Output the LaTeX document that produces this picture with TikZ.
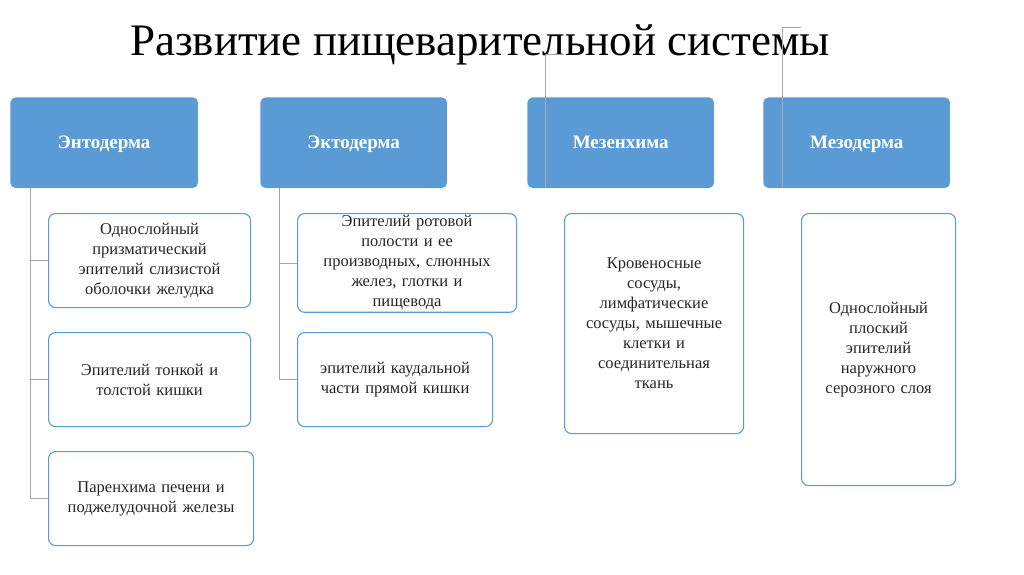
\documentclass[tikz,border=0pt]{standalone}
\usepackage{fontspec}
\setmainfont{Liberation Serif}
\begin{document}
\begin{tikzpicture}[x=1pt,y=-1pt,
 hdr/.style={draw=white,fill=hblue,rounded corners=5pt,anchor=north west,text=white,font=\fontsize{19}{22}\selectfont\bfseries,align=center,inner sep=0pt,text depth=0pt},
 sub/.style={draw=hblue,line width=1.1pt,fill=white,rounded corners=7pt,anchor=north west,font=\fontsize{16.5}{20}\selectfont,align=center,inner sep=2pt,text=black!85},
 conn/.style={draw=gray!70,line width=0.8pt}]
\definecolor{hblue}{HTML}{5B9BD5}
\useasboundingbox (0,0) rectangle (1024,574);
\node (title) at (480,45) {\fontsize{45}{50}\selectfont Развитие пищеварительной системы};
\node[hdr,minimum width=188,minimum height=91] (h1) at (10,97) {Энтодерма};
\node[hdr,minimum width=187,minimum height=91] (h2) at (260,97) {Эктодерма};
\node[hdr,minimum width=187,minimum height=91] (h3) at (527,97) {Мезенхима};
\node[hdr,minimum width=187,minimum height=91] (h4) at (763,97) {Мезодерма};
\node[sub,minimum width=202,minimum height=94,text width=195] (a1) at (48,213) {Однослойный\\призматический\\эпителий слизистой\\оболочки желудка};
\node[sub,minimum width=202,minimum height=94,text width=195] (a2) at (48,332) {Эпителий тонкой и\\толстой кишки};
\node[sub,minimum width=205,minimum height=94,text width=198] (b0) at (48,451) {Паренхима печени и\\поджелудочной железы};
\node[sub,minimum width=219,minimum height=94,text width=210] (b1) at (297,213) {Эпителий ротовой\\полости и ее\\производных, слюнных\\желез, глотки и\\пищевода};
\node[sub,minimum width=195,minimum height=94,text width=188] (b2) at (297,332) {эпителий каудальной\\части прямой кишки};
\node[sub,minimum width=179,minimum height=220,text width=172] (c1) at (564,213) {Кровеносные\\сосуды,\\лимфатические\\сосуды, мышечные\\клетки и\\соединительная\\ткань};
\node[sub,minimum width=154,minimum height=272,text width=148] (d1) at (801,213) {Однослойный\\плоский\\эпителий\\наружного\\серозного слоя};
\coordinate (s1) at (30,188);\coordinate (s2) at (279,188);\coordinate (s3) at (545,188);\coordinate (s4) at (782,188);
\draw[conn] (s1) |- (b0.west); \draw[conn] (s1) |- (a1.west); \draw[conn] (s1) |- (a2.west);
\draw[conn] (s2) |- (b2.west); \draw[conn] (s2) |- (b1.west);
\draw[conn] (s3) |- ([yshift=134]s3 -| c1.west);
\draw[conn] (s4) |- ([yshift=161]s4 -| d1.west);
\end{tikzpicture}
\end{document}
